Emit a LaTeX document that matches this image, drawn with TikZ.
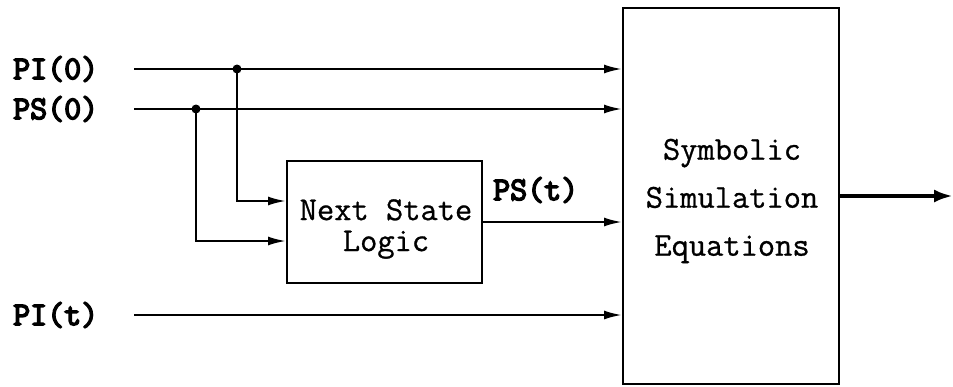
\documentclass[tikz,border=0pt]{standalone}
\usepackage{fontspec}
\usetikzlibrary{arrows.meta}
\newfontfamily\monoreg{Latin Modern Mono}[FakeBold=0.8]
\newfontfamily\monobold{Latin Modern Mono}[FakeBold=4.5]
\begin{document}
\begin{tikzpicture}[x=1pt,y=-1pt,
  wire/.style={line width=2.2pt},
  arr/.style={wire,-{Latex[length=18pt,width=9pt]}},
  bigarr/.style={line width=4.5pt,-{Latex[length=19pt,width=13pt]}},
  block/.style={draw,line width=2pt,inner sep=0,minimum width=#1},
  sig/.style={font=\monobold\fontsize{33}{34}\selectfont,inner sep=0,anchor=west},
  boxtext/.style={font=\monoreg\fontsize{33.5}{#1}\selectfont,align=center,inner sep=0},
  dot/.style={circle,fill,inner sep=0,minimum size=9pt}]
\useasboundingbox (0,0) rectangle (953,386);

% blocks
\node[block=195pt,minimum height=122pt] (nsl) at (384.5,222) {};
\node[boxtext=31] (nsltxt) at (386,229) {Next State\\Logic};
\node[block=216pt,minimum height=376pt] (big) at (731,196) {};
\node[boxtext=48] (bigtxt) at (732,201) {Symbolic\\Simulation\\Equations};

% signal names
\node[sig] (pi0) at (13,69) {PI(0)};
\node[sig] (ps0) at (13,109) {PS(0)};
\node[sig] (pit) at (13,315) {PI(t)};
\node[sig] (pst) at (493,190) {PS(t)};

% fan-out points
\node[dot] (j1) at (237,69) {};
\node[dot] (j2) at (196,109) {};
\coordinate (out) at (953,196);

% inputs into the simulation equations
\draw[arr] ([xshift=36pt]pi0.east) -- (pi0.east -| big.west);
\draw[arr] ([xshift=36pt]ps0.east) -- (ps0.east -| big.west);
\draw[arr] ([xshift=36pt]pit.east) -- (pit.east -| big.west);

% branches into the next state logic
\draw[arr] (j1.center) |- ([yshift=21pt]nsl.west);
\draw[arr] (j2.center) |- ([yshift=-19pt]nsl.west);

% next state into the equations, and the output
\draw[arr] (nsl.east) -- (nsl.east -| big.west);
\draw[bigarr] (big.east) -- (out);
\end{tikzpicture}
\end{document}
